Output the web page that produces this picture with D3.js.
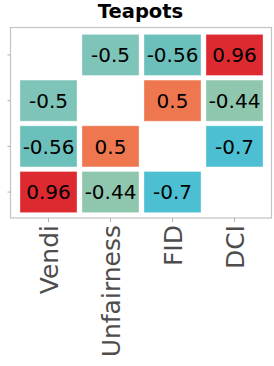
<!DOCTYPE html>
<html>
<head>
<meta charset="utf-8">
<script src="https://cdn.jsdelivr.net/npm/d3@7"></script>
<style>
  body { margin: 0; background: #fff; }
  svg { display: block; font-family: "DejaVu Sans", sans-serif; }
</style>
</head>
<body>
<div id="chart"></div>
<script>
// metric names, same order on both axes
var metrics = ["Vendi", "Unfairness", "FID", "DCI"];
// correlation matrix, diagonal left empty
var corrVendi      = [null, -0.5, -0.56, 0.96];
var corrUnfairness = [-0.5, null, 0.5, -0.44];
var corrFID        = [-0.56, 0.5, null, -0.7];
var corrDCI        = [0.96, -0.44, -0.7, null];
var rows = [corrVendi, corrUnfairness, corrFID, corrDCI];

// colours for each value
var colorStops = [-0.7, -0.56, -0.5, -0.44, 0.5, 0.96];
var colorValues = ["#4cbfd2", "#6cc0bc", "#7fc4b8", "#8fc6ae", "#ef7750", "#dc2a30"];

var width = 274, height = 366;
var svg = d3.select("#chart").append("svg")
    .attr("width", width)
    .attr("height", height);

var x = d3.scaleBand().domain(metrics).range([17.5, 265.5]).paddingInner(0.08).paddingOuter(0.04);
var y = d3.scaleBand().domain(metrics).range([33, 214]).paddingInner(0.1).paddingOuter(0.03);
var color = d3.scaleLinear().domain(colorStops).range(colorValues);

// flatten into cells
var cells = [];
rows.forEach(function (row, i) {
    row.forEach(function (v, j) {
        if (v !== null) cells.push({ row: metrics[i], col: metrics[j], value: v });
    });
});

// frame
svg.append("rect")
    .attr("x", 10.5).attr("y", 27.5)
    .attr("width", 261).attr("height", 190.5)
    .attr("fill", "none")
    .attr("stroke", "#c4c4c4")
    .attr("stroke-width", 1.2);

svg.append("g").selectAll("rect")
    .data(cells)
    .enter()
    .append("rect")
    .attr("x", function (d) { return x(d.col); })
    .attr("y", function (d) { return y(d.row); })
    .attr("width", x.bandwidth())
    .attr("height", y.bandwidth())
    .attr("fill", function (d) { return color(d.value); })
    .attr("stroke", "rgba(255,255,255,0.35)")
    .attr("stroke-width", 1);

svg.append("g").selectAll("text")
    .data(cells)
    .enter()
    .append("text")
    .attr("x", function (d) { return x(d.col) + x.bandwidth() / 2; })
    .attr("y", function (d) { return y(d.row) + y.bandwidth() / 2; })
    .attr("dy", "0.36em")
    .attr("text-anchor", "middle")
    .attr("font-size", "20px")
    .attr("fill", "#000")
    .text(function (d) { return d.value; });

// x axis with rotated labels
var xAxis = svg.append("g")
    .attr("transform", "translate(0,218)")
    .call(d3.axisBottom(x).tickSize(4).tickPadding(3));
xAxis.select(".domain").remove();
xAxis.selectAll("line").attr("stroke", "#b0b0b0");
xAxis.selectAll("text")
    .attr("font-size", "25px")
    .attr("font-family", "DejaVu Sans, sans-serif")
    .attr("fill", "#4d4d4d")
    .attr("transform", "rotate(-90)")
    .attr("text-anchor", "end")
    .attr("x", -7)
    .attr("y", 0)
    .attr("dy", "0.36em");

// y axis, ticks only
var yAxis = svg.append("g")
    .attr("transform", "translate(10.5,0)")
    .call(d3.axisLeft(y).tickSize(3).tickFormat(""));
yAxis.select(".domain").remove();
yAxis.selectAll("line").attr("stroke", "#b0b0b0");

svg.append("text")
    .attr("x", 140.5)
    .attr("y", 17.5)
    .attr("text-anchor", "middle")
    .attr("font-size", "19.5px")
    .attr("font-weight", "bold")
    .text("Teapots");
</script>
</body>
</html>
